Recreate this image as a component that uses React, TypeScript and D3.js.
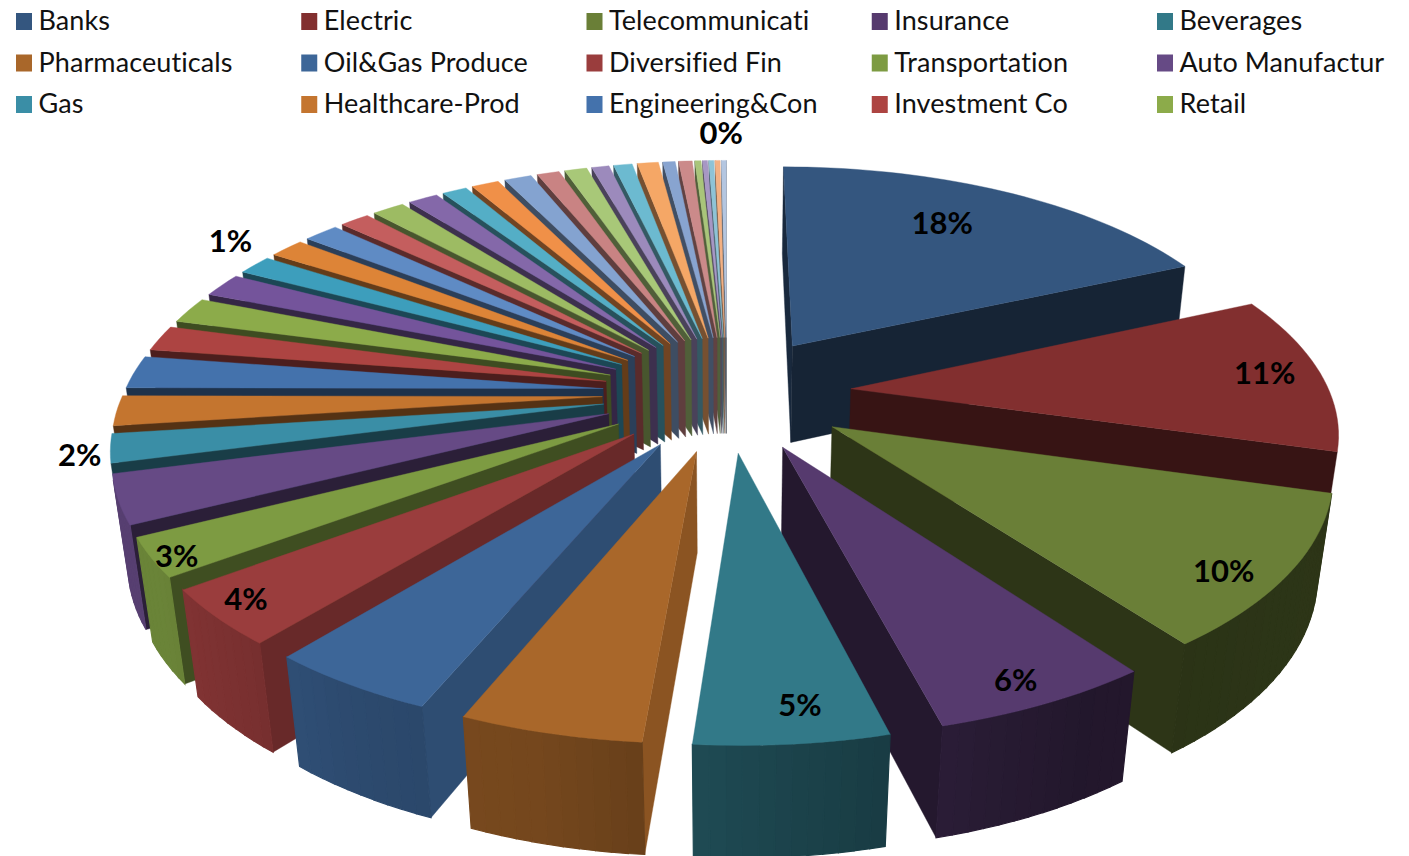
import React from "react";
import * as d3 from "d3";

const legendNames = [
  "Banks", "Electric", "Telecommunicati", "Insurance", "Beverages",
  "Pharmaceuticals", "Oil&Gas Produce", "Diversified Fin", "Transportation", "Auto Manufactur",
  "Gas", "Healthcare-Prod", "Engineering&Con", "Investment Co", "Retail",
];
const sliceValues = [
  18.3, 11.1, 10.5, 6.1, 5.3, 5, 4.7, 3.9, 2.7, 3.4, 2, 2.1, 2.3, 1.8, 1.85, 1.7, 1.4, 1.4, 1.4,
  1.2, 1.3, 1.2, 1, 1.1, 1.1, 0.9, 0.9, 0.7, 0.75, 0.85, 0.5, 0.55, 0.25, 0.2, 0.2, 0.2, 0.2,
];
const sliceColors = [
  "#34567f", "#822f2f", "#6a7f37", "#563a6e", "#327988", "#a9672a",
  "#3d6698", "#9a3d3d", "#7d9b42", "#664a85", "#3a8ea6", "#c4752f",
  "#4472ac", "#ad4442", "#8cab4a", "#74549b", "#3d9ebc", "#dd8437",
  "#5f8bc4", "#c45e5e", "#9dbb63", "#8468a9", "#54aec6", "#f09048",
  "#84a3d0", "#c98383", "#a8c878", "#9c8abc", "#6cbad0", "#f5a766",
  "#88a4d0", "#cb8a8a", "#a9c57a", "#a797c4", "#8ec3d6", "#f4b183", "#b4c6e0",
];
const labelTexts = ["18%", "11%", "10%", "6%", "5%", "4%", "3%", "2%", "1%", "0%"];
const labelAngles = [30.4, 85.4, 127.6, 155, 173.8, 227.3, 237.4, 258.3, 303.3, 359.4];
const labelRadii = [1.014, 1.143, 1.158, 1.178, 1.148, 1.187, 1.218, 1.32, 1.395, 1.44];

const W = 1409, H = 856;
const CX = 727, CY = 393, A = 479, B = 222.5, P = 0.163, Q = 0.025, D = 101, EXPLODE = 0.26;

type Pt = { u: number; v: number };
const top = ({ u, v }: Pt): [number, number] => {
  const w = 1 / (1 + P * v);
  return [CX + A * u * w, CY - B * v * w];
};
const bottom = ({ u, v }: Pt): [number, number] => {
  const w = 1 / (1 + P * v + Q);
  return [CX + A * u * w, CY - B * v * w + D * w];
};
const area = (p: [number, number][]) =>
  d3.sum(p, (a, i) => {
    const b = p[(i + 1) % p.length];
    return a[0] * b[1] - b[0] * a[1];
  });
const closed = d3.line().curve(d3.curveLinearClosed);
const shade = (c: string, s: number) => {
  const r = d3.rgb(c);
  return d3.rgb(r.r * s, r.g * s, r.b * s).formatHex();
};
const rimShade = d3.scaleLinear()
  .domain([60, 120, 150, 175, 195, 210, 225, 237, 255, 280])
  .range([0.42, 0.42, 0.4, 0.55, 0.69, 0.72, 0.8, 0.85, 0.85, 0.85]).clamp(true);
const cutShade = d3.scaleLinear()
  .domain([96, 113, 129, 142, 152, 260])
  .range([0.82, 0.75, 0.68, 0.52, 0.42, 0.48]).clamp(true);

const arcs = d3.pie<number>().sort(null).startAngle(0).endAngle(2 * Math.PI)(sliceValues);
const labelSlices = labelAngles.map((a, i) => {
  const t = (a * Math.PI) / 180;
  return { text: labelTexts[i], pos: top({ u: labelRadii[i] * Math.sin(t), v: labelRadii[i] * Math.cos(t) }) };
});

type Face = { d: string; fill: string; sw: number };
const buildSlice = (a0: number, a1: number, color: string): Face[] => {
  const mid = (a0 + a1) / 2;
  const apex: Pt = { u: EXPLODE * Math.sin(mid), v: EXPLODE * Math.cos(mid) };
  const rim = (t: number): Pt => ({ u: apex.u + Math.sin(t), v: apex.v + Math.cos(t) });
  const n = Math.max(2, Math.ceil((a1 - a0) / 0.03));
  const ts = d3.range(n + 1).map((i) => a0 + ((a1 - a0) * i) / n);
  const faces: Face[] = [];
  const start: [number, number][] = [top(apex), top(rim(a0)), bottom(rim(a0)), bottom(apex)];
  if (area(start) < 0) {
    const normal = (((a0 * 180) / Math.PI - 90) % 360 + 360) % 360;
    faces.push({ d: closed(start)!, fill: shade(color, cutShade(normal)), sw: 0.4 });
  }
  const end: [number, number][] = [top(apex), top(rim(a1)), bottom(rim(a1)), bottom(apex)];
  if (area(end) > 0) faces.push({ d: closed(end)!, fill: shade(color, 0.42), sw: 0.4 });
  ts.slice(0, -1).forEach((t, i) => {
    const q: [number, number][] = [top(rim(t)), top(rim(ts[i + 1])), bottom(rim(ts[i + 1])), bottom(rim(t))];
    if (area(q) < 0) faces.push({ d: closed(q)!, fill: shade(color, rimShade(((t + ts[i + 1]) * 90) / Math.PI)), sw: 1.2 });
  });
  const face: [number, number][] = [top(apex), ...ts.map((t) => top(rim(t)))];
  faces.push({ d: closed(face)!, fill: color, sw: 0.4 });
  return faces;
};

const slices = arcs
  .map((a, i) => ({ i, mid: (a.startAngle + a.endAngle) / 2, a }))
  .sort((x, y) => Math.cos(y.mid) - Math.cos(x.mid));

const FONT = "Lato, 'Noto Sans', sans-serif";
const legendCol = d3.scalePoint<number>().domain([0, 1, 2, 3, 4]).range([16, 1157]);
const legendRow = d3.scalePoint<number>().domain([0, 1, 2]).range([21, 104]);

export default function App() {
  return (
    <svg width={W} height={H} viewBox={`0 0 ${W} ${H}`} style={{ position: "absolute", left: 0, top: 0, background: "#fff" }}>
      {slices.map(({ i, a }) => (
        <g key={i}>
          {buildSlice(a.startAngle, a.endAngle, sliceColors[i]).map((f, j) => (
            <path key={j} d={f.d} fill={f.fill} stroke={f.fill} strokeWidth={f.sw} />
          ))}
        </g>
      ))}
      {legendNames.map((name, i) => {
        const x = legendCol(i % 5)!;
        const y = legendRow(Math.floor(i / 5))!;
        return (
          <g key={name}>
            <rect x={x} y={y - 8} width={16} height={17} fill={sliceColors[i]} />
            <text x={x + 22.5} y={y} dy="0.35em" fontFamily={FONT} fontSize={27} letterSpacing={0.1}
              style={{ fontVariantLigatures: "none" }} fill="#111">{name}</text>
          </g>
        );
      })}
      {labelSlices.map((l) => (
        <text key={l.text} x={l.pos[0]} y={l.pos[1]} dy="0.35em" textAnchor="middle"
          fontFamily={FONT} fontWeight={700} fontSize={31} fill="#000">{l.text}</text>
      ))}
    </svg>
  );
}
